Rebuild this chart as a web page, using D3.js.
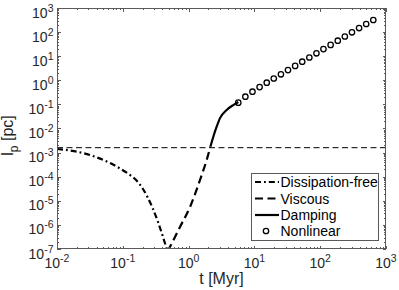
<!DOCTYPE html>
<html>
<head>
<meta charset="utf-8">
<script src="https://cdn.jsdelivr.net/npm/d3@7"></script>
<style>
  body { margin: 0; background: #fff; }
  svg { display: block; font-family: "Liberation Sans", Arial, sans-serif; }
</style>
</head>
<body>
<svg id="chart" width="399" height="290"></svg>
<script>
// values
const freeT = [0.01, 0.0158, 0.0248, 0.0406, 0.0639, 0.0906, 0.1285, 0.1644, 0.2028, 0.2415, 0.2877, 0.3428, 0.4083, 0.47];
const freeL = [1.41e-3, 1.22e-3, 9.6e-4, 6.26e-4, 3.7e-4, 2.19e-4, 1.18e-4, 6.64e-5, 3.09e-5, 1.31e-5, 4.57e-6, 1.32e-6, 3.15e-7, 9.1e-8];

const viscT = [0.48, 0.6, 0.74, 1.05, 1.49, 1.88, 2.15];
const viscL = [8e-8, 2.6e-7, 8.2e-7, 5.5e-6, 7.3e-5, 4.9e-4, 1.8e-3];

const dampT = [2.15, 2.4, 2.67, 3.0, 3.79, 4.78, 5.7];
const dampL = [1.8e-3, 5.0e-3, 1.19e-2, 2.7e-2, 5.9e-2, 9.4e-2, 0.125];

const nonlinT = [5.69, 7.29, 9.35, 12.0, 15.4, 19.7, 25.3, 32.4, 41.6, 53.3,
                 68.4, 87.7, 112, 144, 185, 237, 304, 390, 500, 641];
const nonlinL = [0.118, 0.209, 0.337, 0.522, 0.794, 1.19, 1.77, 2.65, 3.96, 5.91,
                 8.83, 13.2, 19.7, 29.4, 44.0, 65.6, 98.1, 147, 217, 318];

const refLevel = 1.6e-3;

const xDecades = [-2, -1, 0, 1, 2, 3];
const yDecades = [-7, -6, -5, -4, -3, -2, -1, 0, 1, 2, 3];

const legendNames = ["Dissipation-free", "Viscous", "Damping", "Nonlinear"];

const svg = d3.select("#chart");
const box = { left: 57, right: 386, top: 8, bottom: 249 };
const axisColor = "#262626";
const frameColor = "#5a5a5a";

const x = d3.scaleLog().domain([1e-2, 1e3]).range([box.left, box.right]);
const y = d3.scaleLog().domain([1e-7, 1e3]).range([box.bottom, box.top]);

svg.append("clipPath").attr("id", "clip")
  .append("rect")
  .attr("x", box.left).attr("y", box.top)
  .attr("width", box.right - box.left).attr("height", box.bottom - box.top);

const plot = svg.append("g").attr("clip-path", "url(#clip)");

const line = d3.line()
  .x(d => x(d[0]))
  .y(d => y(d[1]))
  .curve(d3.curveMonotoneX);

// reference level
plot.append("line")
  .attr("x1", box.left).attr("x2", box.right)
  .attr("y1", y(refLevel)).attr("y2", y(refLevel))
  .attr("stroke", "#000").attr("stroke-width", 1)
  .attr("stroke-dasharray", "6,3.5");

const styles = [
  { dash: "6,3,1.8,3", width: 2.2 },
  { dash: "8,4.5", width: 2.2 },
  { dash: null, width: 2.2 },
];

const series = [
  d3.zip(freeT, freeL),
  d3.zip(viscT, viscL),
  d3.zip(dampT, dampL),
];

series.forEach((s, i) => {
  plot.append("path")
    .attr("d", line(s))
    .attr("fill", "none")
    .attr("stroke", "#000")
    .attr("stroke-width", styles[i].width)
    .attr("stroke-dasharray", styles[i].dash);
});

plot.selectAll("circle.nl")
  .data(d3.zip(nonlinT, nonlinL))
  .enter().append("circle")
  .attr("class", "nl")
  .attr("cx", d => x(d[0]))
  .attr("cy", d => y(d[1]))
  .attr("r", 2.7)
  .attr("fill", "none")
  .attr("stroke", "#000")
  .attr("stroke-width", 1.3);

// axes box and ticks
const ax = svg.append("g").attr("stroke", frameColor).attr("shape-rendering", "crispEdges");
ax.append("rect")
  .attr("x", box.left + 0.5).attr("y", box.top + 0.5)
  .attr("width", box.right - box.left - 1).attr("height", box.bottom - box.top - 1)
  .attr("fill", "none").attr("stroke-width", 1);

function logTicks(decades) {
  const major = decades.map(d => Math.pow(10, d));
  const minor = [];
  decades.slice(0, -1).forEach(d => {
    for (let k = 2; k <= 9; k++) minor.push(k * Math.pow(10, d));
  });
  return { major, minor };
}

const xt = logTicks(xDecades);
const yt = logTicks(yDecades);

[[xt.major, 3.5], [xt.minor, 2]].forEach(([vals, len]) => {
  vals.forEach(v => {
    const px = Math.round(x(v)) + 0.5;
    ax.append("line").attr("x1", px).attr("x2", px).attr("y1", box.bottom).attr("y2", box.bottom - len);
    ax.append("line").attr("x1", px).attr("x2", px).attr("y1", box.top).attr("y2", box.top + len);
  });
});
[[yt.major, 3.5], [yt.minor, 2]].forEach(([vals, len]) => {
  vals.forEach(v => {
    const py = Math.round(y(v)) + 0.5;
    ax.append("line").attr("y1", py).attr("y2", py).attr("x1", box.left).attr("x2", box.left + len);
    ax.append("line").attr("y1", py).attr("y2", py).attr("x1", box.right).attr("x2", box.right - len);
  });
});

// tick labels
const xl = svg.append("g").attr("fill", axisColor).attr("font-size", 14);
xDecades.forEach(d => {
  const t = xl.append("text")
    .attr("x", x(Math.pow(10, d)))
    .attr("y", 268)
    .attr("text-anchor", "middle");
  t.append("tspan").text("10");
  t.append("tspan").attr("dy", -6).attr("font-size", 10.5).text(d);
});

const yl = svg.append("g").attr("fill", axisColor).attr("font-size", 14);
yDecades.forEach(d => {
  const t = yl.append("text")
    .attr("x", 53.5)
    .attr("y", y(Math.pow(10, d)) + 9.5)
    .attr("text-anchor", "end");
  t.append("tspan").text("10");
  t.append("tspan").attr("dy", -6).attr("font-size", 10.5).text(d);
});

// axis titles
svg.append("text")
  .attr("x", (box.left + box.right) / 2)
  .attr("y", 284)
  .attr("text-anchor", "middle")
  .attr("font-size", 16)
  .attr("fill", axisColor)
  .text("t [Myr]");

const yTitle = svg.append("text")
  .attr("transform", "translate(13," + ((box.top + box.bottom) / 2 + 7) + ") rotate(-90)")
  .attr("text-anchor", "middle")
  .attr("font-size", 16)
  .attr("fill", axisColor);
yTitle.append("tspan").text("l");
yTitle.append("tspan").attr("dy", 5).attr("font-size", 12).text("p");
yTitle.append("tspan").attr("dy", -5).text(" [pc]");

// legend
const lg = svg.append("g");
lg.append("rect")
  .attr("x", 251.5).attr("y", 173.5)
  .attr("width", 127).attr("height", 67)
  .attr("fill", "#fff")
  .attr("stroke", frameColor)
  .attr("stroke-width", 1);

const rowY = [182, 198.5, 215, 231];
legendNames.forEach((name, i) => {
  const cy = rowY[i];
  if (i < 3) {
    lg.append("line")
      .attr("x1", 255).attr("x2", 279)
      .attr("y1", cy).attr("y2", cy)
      .attr("stroke", "#000")
      .attr("stroke-width", styles[i].width)
      .attr("stroke-dasharray", styles[i].dash);
  } else {
    lg.append("circle")
      .attr("cx", 266).attr("cy", cy)
      .attr("r", 2.7)
      .attr("fill", "none").attr("stroke", "#000").attr("stroke-width", 1.3);
  }
  lg.append("text")
    .attr("x", 280.5).attr("y", cy + 5)
    .attr("font-size", 14)
    .attr("fill", "#000")
    .text(name);
});
</script>
</body>
</html>
